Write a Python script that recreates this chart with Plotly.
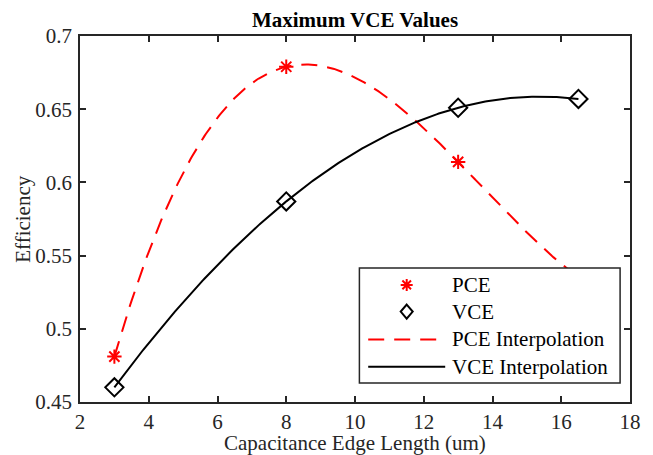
import numpy as np
import plotly.graph_objects as go

# Measured efficiencies vs. capacitance edge length
edge_len = [3, 8, 13, 16.5]
pce = [0.481, 0.679, 0.614, 0.535]
vce = [0.460, 0.587, 0.651, 0.657]

x_ticks = [2, 4, 6, 8, 10, 12, 14, 16, 18]
y_ticks = [0.45, 0.5, 0.55, 0.6, 0.65, 0.7]

legend_labels = ["PCE", "VCE", "PCE Interpolation", "VCE Interpolation"]

# Cubic interpolation through the four samples of each series
xs = np.linspace(min(edge_len), max(edge_len), 300)
pce_fit = np.polyval(np.polyfit(edge_len, pce, 3), xs)
vce_fit = np.polyval(np.polyfit(edge_len, vce, 3), xs)

FONT = "Liberation Serif"
FS = 21
AXIS = "#262626"
RED = "#ff0000"
DASH = "16px,10px"

fig = go.Figure()
fig.add_trace(go.Scatter(x=xs, y=pce_fit, mode="lines",
                         line=dict(color=RED, width=2, dash=DASH)))
fig.add_trace(go.Scatter(x=xs, y=vce_fit, mode="lines",
                         line=dict(color="#000000", width=2)))
fig.add_trace(go.Scatter(x=edge_len, y=pce, mode="markers",
                         marker=dict(symbol="asterisk-open", size=12, color=RED,
                                     line=dict(color=RED, width=2))))
fig.add_trace(go.Scatter(x=edge_len, y=vce, mode="markers",
                         marker=dict(symbol="diamond-open", size=14, color="#000000",
                                     line=dict(color="#000000", width=2))))

axis_common = dict(
    showline=True, linecolor=AXIS, linewidth=1.5, mirror="ticks",
    ticks="inside", ticklen=6, tickwidth=1.5, tickcolor=AXIS,
    showgrid=False, zeroline=False,
    tickfont=dict(family=FONT, size=FS, color=AXIS),
)

# Boxed legend in the lower right of the axes (paper coordinates)
box_x0, box_x1, box_y0, box_y1 = 0.508, 0.982, 0.052, 0.366
row_y = [0.320, 0.247, 0.171, 0.096]
sym_x, line_x0, line_x1, text_x = 0.594, 0.524, 0.664, 0.672

shapes = [dict(type="rect", xref="paper", yref="paper", layer="above",
               x0=box_x0, x1=box_x1, y0=box_y0, y1=box_y1,
               fillcolor="white", line=dict(color=AXIS, width=1.5))]
# asterisk glyph (plus + cross)
star_path = "M-6,0L6,0M0,-6L0,6M-4.3,-4.3L4.3,4.3M-4.3,4.3L4.3,-4.3"
shapes.append(dict(type="path", xref="paper", yref="paper", layer="above",
                   xsizemode="pixel", ysizemode="pixel",
                   xanchor=sym_x, yanchor=row_y[0], path=star_path,
                   line=dict(color=RED, width=2)))
# diamond glyph
shapes.append(dict(type="path", xref="paper", yref="paper", layer="above",
                   xsizemode="pixel", ysizemode="pixel",
                   xanchor=sym_x, yanchor=row_y[1],
                   path="M0,7L6,0L0,-7L-6,0Z",
                   line=dict(color="#000000", width=2)))
shapes.append(dict(type="line", xref="paper", yref="paper", layer="above",
                   x0=line_x0, x1=line_x1, y0=row_y[2], y1=row_y[2],
                   line=dict(color=RED, width=2, dash=DASH)))
shapes.append(dict(type="line", xref="paper", yref="paper", layer="above",
                   x0=line_x0, x1=line_x1, y0=row_y[3], y1=row_y[3],
                   line=dict(color="#000000", width=2)))

annotations = [dict(xref="paper", yref="paper", x=text_x, y=ry, text=lab,
                    xanchor="left", yanchor="middle", showarrow=False,
                    font=dict(family=FONT, size=FS, color="#000000"))
               for lab, ry in zip(legend_labels, row_y)]

# axis titles
annotations.append(dict(xref="paper", yref="paper", x=0.5, y=-0.0755,
                        text="Capacitance Edge Length (um)", showarrow=False,
                        xanchor="center", yanchor="top", borderpad=0,
                        font=dict(family=FONT, size=FS, color=AXIS)))
annotations.append(dict(xref="paper", yref="paper", x=-0.104, y=0.5,
                        text="Efficiency", showarrow=False, textangle=-90,
                        xanchor="center", yanchor="middle",
                        font=dict(family=FONT, size=FS, color=AXIS)))

fig.update_layout(
    width=653, height=455,
    margin=dict(l=80, r=14, t=36, b=53),
    paper_bgcolor="white", plot_bgcolor="white",
    showlegend=False,
    title=dict(text="<b>Maximum VCE Values</b>", x=0.5, xref="paper",
               y=0.956, yref="container", yanchor="middle",
               font=dict(family=FONT, size=FS, color="#000000")),
    xaxis=dict(range=[2, 18], tickvals=x_ticks, ticklabelstandoff=0,
               **axis_common),
    yaxis=dict(range=[0.45, 0.7], tickvals=y_ticks, ticklabelstandoff=2,
               ticktext=[f"{v:g}" for v in y_ticks],
               **axis_common),
    shapes=shapes,
    annotations=annotations,
)

fig.write_html("out.html")
